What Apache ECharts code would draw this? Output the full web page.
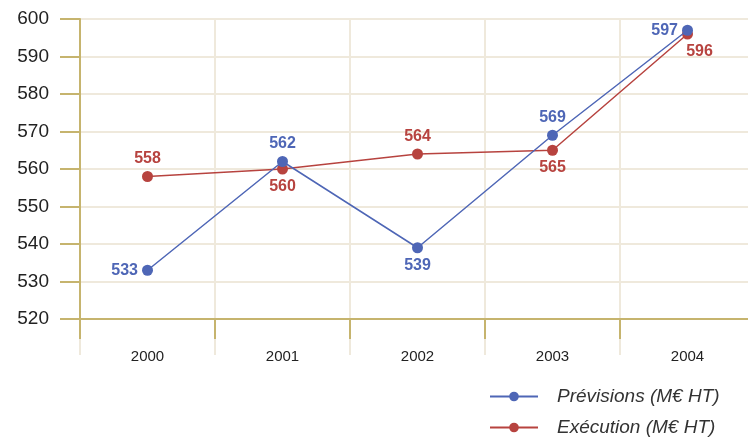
<!DOCTYPE html>
<html>
<head>
<meta charset="utf-8">
<script src="https://cdn.jsdelivr.net/npm/echarts@6/dist/echarts.min.js"></script>
<style>
  html, body { margin: 0; padding: 0; background: #ffffff; overflow: hidden; }
  /* the last category band runs a few pixels past the visible window */
  #chart { width: 755px; height: 440px; }
</style>
</head>
<body>
<div id="chart"></div>
<script>
// Years on the category axis
const years = ['2000', '2001', '2002', '2003', '2004'];
// Forecast and actual spending, in M€ excl. tax
const previsions = [533, 562, 539, 569, 597];
const execution = [558, 560, 564, 565, 596];
// Where each value label sits relative to its point
const previsionsLabelPos = ['left', 'top', 'bottom', 'top', 'left'];
const executionLabelPos = ['top', 'bottom', 'top', 'bottom', 'bottom'];

const gold = '#c6b46e';
const beige = '#efe9dc';
const blue = '#4e66b6';
const red = '#b7433f';

function withLabels(values, positions, lastOffset) {
  return values.map((v, i) => {
    const label = { position: positions[i] };
    if (i === values.length - 1 && lastOffset) label.offset = lastOffset;
    return { value: v, label };
  });
}

const chart = echarts.init(document.getElementById('chart'), null, { renderer: 'canvas' });
chart.setOption({
  animation: false,
  backgroundColor: '#ffffff',
  textStyle: { fontFamily: 'Liberation Sans, Arial, sans-serif' },
  grid: { left: 80, top: 19, right: 0, bottom: 121, containLabel: false },
  xAxis: [
    {
      type: 'category',
      data: years,
      boundaryGap: true,
      axisLine: { show: false },
      axisTick: { show: true, length: 36, lineStyle: { color: beige, width: 2 } },
      axisLabel: { margin: 30, fontSize: 15, color: '#222' },
      splitLine: { show: true, lineStyle: { color: beige, width: 2 } }
    },
    {
      type: 'category',
      data: years,
      position: 'bottom',
      boundaryGap: true,
      axisLine: { show: true, lineStyle: { color: gold, width: 2 } },
      axisTick: { show: true, length: 20, lineStyle: { color: gold, width: 2 } },
      axisLabel: { show: false },
      splitLine: { show: false }
    }
  ],
  yAxis: {
    type: 'value',
    min: 520,
    max: 600,
    interval: 10,
    axisLine: { show: true, lineStyle: { color: gold, width: 2 } },
    axisTick: { show: true, length: 20, lineStyle: { color: gold, width: 2 } },
    axisLabel: { margin: 31, fontSize: 19, color: '#222' },
    splitLine: { show: true, lineStyle: { color: beige, width: 2 } }
  },
  legend: {
    orient: 'vertical',
    left: 484,
    top: 382,
    height: 80,
    itemWidth: 48,
    itemHeight: 12,
    itemGap: 12,
    textStyle: { fontSize: 19, fontStyle: 'italic', color: '#333', padding: [0, 0, 0, 14] },
    data: ['Prévisions (M€ HT)', 'Exécution (M€ HT)']
  },
  series: [
    {
      name: 'Prévisions (M€ HT)',
      type: 'line',
      data: withLabels(previsions, previsionsLabelPos),
      symbol: 'circle',
      symbolSize: 11,
      color: blue,
      lineStyle: { width: 1.5, color: blue },
      z: 3,
      label: { show: true, fontSize: 16, fontWeight: 'bold', color: blue, distance: 4 }
    },
    {
      name: 'Exécution (M€ HT)',
      type: 'line',
      data: withLabels(execution, executionLabelPos, [12, 0]),
      symbol: 'circle',
      symbolSize: 11,
      color: red,
      lineStyle: { width: 1.5, color: red },
      z: 2,
      label: { show: true, fontSize: 16, fontWeight: 'bold', color: red, distance: 4 }
    }
  ]
});
</script>
</body>
</html>
